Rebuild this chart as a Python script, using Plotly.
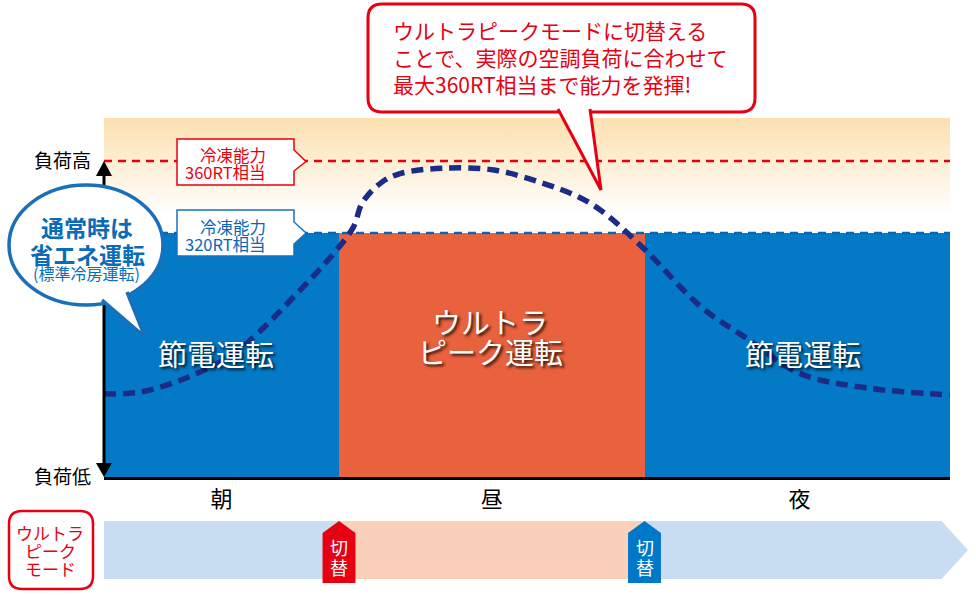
import plotly.graph_objects as go

# ---------------- data ----------------
hours = [6.0, 6.8, 7.8, 8.7, 9.3, 10.2, 10.8, 11.3, 11.5, 11.9, 12.3, 13.2,
         14.3, 15.3, 16.1, 16.6, 17.5, 18.7, 19.7, 20.8, 22.2, 24.0]
load_rt = [230.6, 231.7, 240, 252, 265, 289, 306, 323, 337, 348, 353, 356,
           355, 348, 340, 332, 311, 279, 261, 242, 234, 230]
cap_normal = 320          # 冷凍能力 320RT相当
cap_ultra = 360           # 冷凍能力 360RT相当
axis_min = 184.4
axis_max = 383.9
x_start, x_end = 6.0, 24.0
switch_times = [11.0, 17.5]
period_labels = ["朝", "昼", "夜"]
period_pos = [8.5, 14.25, 20.8]
load_tick_vals = [axis_min, cap_ultra]
load_tick_text = ["負荷低", "負荷高"]

# ---------------- style ----------------
FONT = "Noto Sans CJK JP"
RED = "#e60012"
BLUE = "#0479c5"
BLUE_DARK = "#0a66b4"
ORANGE = "#e9613d"
NAVY = "#1c2c86"
W, H = 976, 595
ML, MR, MT, MB = 104, 26, 118, 118
PW, PH = W - ML - MR, H - MT - MB


def px(x):
    return (x - ML) / PW


def py(y):
    return (H - MB - y) / PH


def P(x, y):
    return f"{px(x):.5f},{py(y):.5f}"


def poly(points, close=True):
    s = "M " + " L ".join(P(x, y) for x, y in points)
    return s + (" Z" if close else "")


def rrect(x0, y0, x1, y1, r):
    return (f"M {P(x0 + r, y0)} L {P(x1 - r, y0)} Q {P(x1, y0)} {P(x1, y0 + r)} "
            f"L {P(x1, y1 - r)} Q {P(x1, y1)} {P(x1 - r, y1)} "
            f"L {P(x0 + r, y1)} Q {P(x0, y1)} {P(x0, y1 - r)} "
            f"L {P(x0, y0 + r)} Q {P(x0, y0)} {P(x0 + r, y0)} Z")


def xp(h, y):
    # x in data (hours), y in pixel -> paper
    return f"{h:.4f},{py(y):.5f}"


fig = go.Figure()

# beige gradient background above normal capacity
fig.add_trace(go.Scatter(
    x=[x_start, x_end, x_end, x_start], y=[cap_normal, cap_normal, axis_max, axis_max],
    fill="toself", mode="none", hoverinfo="skip", showlegend=False,
    fillgradient=dict(type="vertical", colorscale=[[0, "#ffffff"], [1, "#fce0b0"]],
                      start=330, stop=axis_max)))

# energy-saving blocks (blue) and ultra-peak block (orange)
fig.add_trace(go.Bar(
    x=[(x_start + switch_times[0]) / 2, (switch_times[1] + x_end) / 2],
    width=[switch_times[0] - x_start, x_end - switch_times[1]],
    base=axis_min, y=[cap_normal - axis_min] * 2,
    marker=dict(color=BLUE, line=dict(width=0)), hoverinfo="skip", showlegend=False))
fig.add_trace(go.Bar(
    x=[(switch_times[0] + switch_times[1]) / 2],
    width=[switch_times[1] - switch_times[0]],
    base=axis_min, y=[cap_ultra - axis_min],
    marker=dict(color=ORANGE, line=dict(width=0)), hoverinfo="skip", showlegend=False))

# capacity lines
fig.add_trace(go.Scatter(x=[x_start, x_end], y=[cap_ultra, cap_ultra], mode="lines",
                         line=dict(color=RED, width=2.5, dash="8px,6px"),
                         hoverinfo="skip", showlegend=False))
fig.add_trace(go.Scatter(x=[x_start, x_end], y=[cap_normal, cap_normal], mode="lines",
                         line=dict(color=BLUE_DARK, width=2.5, dash="8px,6px"),
                         hoverinfo="skip", showlegend=False))

# load curve
fig.add_trace(go.Scatter(x=hours, y=load_rt, mode="lines",
                         line=dict(color=NAVY, width=5.5, dash="12px,7px",
                                   shape="spline", smoothing=1.0),
                         hoverinfo="skip", showlegend=False))

shapes = []
# vertical axis with arrows
shapes.append(dict(type="line", xref="paper", yref="paper", x0=px(104), x1=px(104),
                   y0=py(172), y1=py(466), line=dict(color="black", width=3), layer="above"))
shapes.append(dict(type="path", xref="paper", yref="paper", layer="above",
                   path=poly([(96, 176), (104, 161), (112, 176)]),
                   fillcolor="black", line=dict(width=0)))
shapes.append(dict(type="path", xref="paper", yref="paper", layer="above",
                   path=poly([(96, 463), (104, 477), (112, 463)]),
                   fillcolor="black", line=dict(width=0)))

# capacity label boxes
shapes.append(dict(type="path", xref="paper", yref="paper", layer="above",
                   path=poly([(177, 139), (294, 139), (294, 150), (306, 161.5),
                              (294, 171), (294, 185), (177, 185)]),
                   fillcolor="white", line=dict(color=RED, width=1.5)))
shapes.append(dict(type="path", xref="paper", yref="paper", layer="above",
                   path=poly([(177, 210), (294, 210), (294, 222), (306, 233),
                              (294, 244), (294, 256), (177, 256)]),
                   fillcolor="white", line=dict(color="#1a72c0", width=1.5)))

# ellipse speech bubble
shapes.append(dict(type="circle", xref="paper", yref="paper", layer="above",
                   x0=px(9), x1=px(163), y0=py(305), y1=py(185),
                   fillcolor="white", line=dict(color="#1a6fbb", width=3.5)))
shapes.append(dict(type="path", xref="paper", yref="paper", layer="above",
                   path=poly([(102, 300), (145, 337), (127, 292)], close=False),
                   fillcolor="white", line=dict(color="#1a6fbb", width=3.5)))

# top callout
shapes.append(dict(type="path", xref="paper", yref="paper", layer="above",
                   path=rrect(368, 4, 755, 112, 14),
                   fillcolor="white", line=dict(color=RED, width=3)))
shapes.append(dict(type="path", xref="paper", yref="paper", layer="above",
                   path=poly([(558, 109), (601, 190), (590, 109)], close=False),
                   fillcolor="white", line=dict(color=RED, width=3)))

# bottom mode band (body follows the time axis, arrow tip drawn in page space)
band_end = 23.83
shapes.append(dict(type="path", xref="x", yref="paper", layer="above",
                   path=(f"M {xp(x_start, 521)} L {xp(band_end, 521)} "
                         f"L {xp(band_end, 579)} L {xp(x_start, 579)} Z"),
                   fillcolor="#c8ddf2", line=dict(width=0)))
shapes.append(dict(type="path", xref="paper", yref="paper", layer="above",
                   path=poly([(941.5, 521), (968, 550), (941.5, 579)]),
                   fillcolor="#c8ddf2", line=dict(width=0)))
shapes.append(dict(type="path", xref="x", yref="paper", layer="above",
                   path=(f"M {xp(switch_times[0], 521)} L {xp(switch_times[1], 521)} "
                         f"L {xp(switch_times[1], 579)} L {xp(switch_times[0], 579)} Z"),
                   fillcolor="#f9d0b9", line=dict(width=0)))
for t, col in zip(switch_times, [RED, "#0078c8"]):
    hw = 0.35
    shapes.append(dict(type="path", xref="x", yref="paper", layer="above",
                       path=(f"M {xp(t - hw, 583)} L {xp(t - hw, 533)} L {xp(t, 521)} "
                             f"L {xp(t + hw, 533)} L {xp(t + hw, 583)} Z"),
                       fillcolor=col, line=dict(width=0)))

# left mode label box
shapes.append(dict(type="path", xref="paper", yref="paper", layer="above",
                   path=rrect(9, 511, 93, 589, 13),
                   fillcolor="white", line=dict(color=RED, width=2.5)))

annotations = []


def txt(text, x, y, size, color, xanchor="center", weight="normal", shadow=None, xref="paper"):
    f = dict(family=FONT, size=size, color=color, weight=weight)
    if shadow:
        f["shadow"] = shadow
    annotations.append(dict(text=text, x=(px(x) if xref == "paper" else x), y=py(y),
                            xref=xref, yref="paper", showarrow=False, xanchor=xanchor,
                            yanchor="middle", font=f))


SH = "2px 2px 3px rgba(0,0,0,0.85)"
# callout text
txt("ウルトラピークモードに切替える", 391, 30, 21, RED, "left")
txt("ことで、実際の空調負荷に合わせて", 391, 57, 21, RED, "left")
txt("最大360RT相当まで能力を発揮!", 391, 84, 21, RED, "left")
# capacity labels
txt("冷凍能力", 268, 155, 16.5, RED, "right")
txt("360RT相当", 268, 172, 16.5, RED, "right")
txt("冷凍能力", 268, 227, 16.5, "#0a66b4", "right")
txt("320RT相当", 268, 244, 16.5, "#0a66b4", "right")
# ellipse text
txt("通常時は", 87, 227, 23, "#0a6cb8", weight="bold")
txt("省エネ運転", 87, 254, 23, "#0a6cb8", weight="bold")
txt("(標準冷房運転)", 86, 273, 16, "#0a6cb8")
# block labels
txt("節電運転", 216, 353, 29, "white", shadow=SH)
txt("節電運転", 803, 353, 29, "white", shadow=SH)
txt("ウルトラ", 490, 321, 29, "white", shadow=SH)
txt("ピーク運転", 490, 351, 29, "white", shadow=SH)
# mode box
txt("ウルトラ", 50, 532, 17, RED)
txt("ピーク", 50, 550, 17, RED)
txt("モード", 50, 568, 17, RED)
# switch markers
for t in switch_times:
    txt("切", t, 547, 18, "white", xref="x")
    txt("替", t, 567, 18, "white", xref="x")

fig.update_layout(
    width=W, height=H, margin=dict(l=ML, r=MR, t=MT, b=MB),
    paper_bgcolor="white", plot_bgcolor="white",
    barmode="overlay", bargap=0, showlegend=False,
    shapes=shapes, annotations=annotations,
    font=dict(family=FONT),
    xaxis=dict(range=[x_start, x_end], showgrid=False, zeroline=False,
               showline=True, linecolor="black", linewidth=3,
               tickmode="array", tickvals=period_pos, ticktext=period_labels,
               ticks="", ticklabelstandoff=1,
               tickfont=dict(family=FONT, size=22, color="black")),
    yaxis=dict(range=[axis_min, axis_max], showgrid=False, zeroline=False,
               showline=False, tickmode="array", tickvals=load_tick_vals,
               ticktext=load_tick_text, ticks="", ticklabelstandoff=12,
               tickfont=dict(family=FONT, size=19, color="black")),
)

fig.write_html("out.html", config={"displayModeBar": False},
               post_script="document.body.style.margin='0';document.body.style.overflow='hidden';")
